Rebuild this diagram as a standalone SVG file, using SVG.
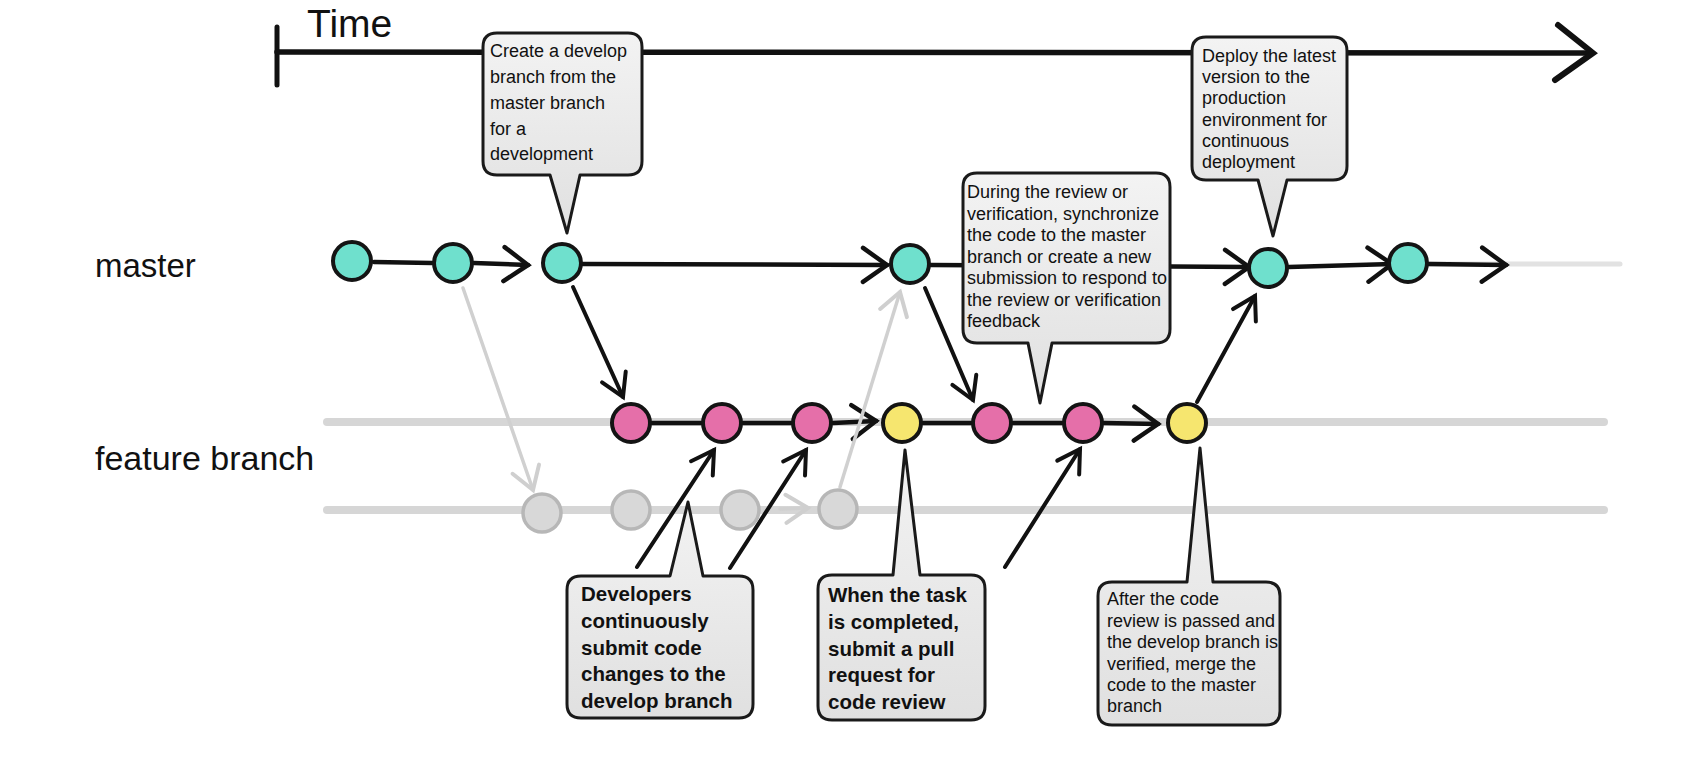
<svg xmlns="http://www.w3.org/2000/svg" width="1706" height="760" viewBox="0 0 1706 760">
<defs>
  <linearGradient id="bub" x1="0" y1="0" x2="0" y2="1">
    <stop offset="0" stop-color="#f3f3f3"/>
    <stop offset="1" stop-color="#e0e0e0"/>
  </linearGradient>
  <marker id="chev" markerUnits="userSpaceOnUse" viewBox="-30 -22 34 44" markerWidth="34" markerHeight="44" refX="0" refY="0" orient="auto" overflow="visible">
    <path d="M -24,-17 L 0,0 L -24,17" fill="none" stroke="#111" stroke-width="4.5" stroke-linejoin="miter" stroke-linecap="round"/>
  </marker>
  <marker id="chevS" markerUnits="userSpaceOnUse" viewBox="-30 -22 34 44" markerWidth="34" markerHeight="44" refX="0" refY="0" orient="auto" overflow="visible">
    <path d="M -22,-13 L 0,0 L -22,13" fill="none" stroke="#111" stroke-width="4" stroke-linecap="round"/>
  </marker>
  <marker id="chevG" markerUnits="userSpaceOnUse" viewBox="-30 -22 34 44" markerWidth="34" markerHeight="44" refX="0" refY="0" orient="auto" overflow="visible">
    <path d="M -22,-14 L 0,0 L -22,14" fill="none" stroke="#cfcfcf" stroke-width="4" stroke-linecap="round"/>
  </marker>
</defs>
<style>
  .lbl { font-family: "Liberation Sans", Arial, sans-serif; fill: #111; }
  .txt { font-family: "Liberation Sans", Arial, sans-serif; fill: #111; font-size: 18px; }
  .btxt { font-family: "Liberation Sans", Arial, sans-serif; fill: #111; font-size: 20.5px; font-weight: bold; }
  .bubble { fill: url(#bub); stroke: #1a1a1a; stroke-width: 3; stroke-linejoin: round; }
  .track { stroke: #d6d6d6; stroke-width: 8; stroke-linecap: round; fill: none; }
  .blk { stroke: #111; stroke-width: 4.5; stroke-linecap: round; fill: none; }
  .dia { stroke: #111; stroke-width: 4; stroke-linecap: round; fill: none; }
  .gry { stroke: #d0d0d0; stroke-width: 3.5; stroke-linecap: round; fill: none; }
  .teal { fill: #6fe0cd; stroke: #141414; stroke-width: 4; }
  .pink { fill: #e56fa9; stroke: #141414; stroke-width: 4; }
  .yel { fill: #f6e66f; stroke: #141414; stroke-width: 4; }
  .ghost { fill: #d8d8d8; stroke: #b7b7b7; stroke-width: 3.5; }
</style>

<rect x="0" y="0" width="1706" height="760" fill="#ffffff"/>

<!-- Time axis -->
<g id="time-axis">
  <text class="lbl" x="307" y="37" font-size="39">Time</text>
  <line x1="277" y1="27" x2="277" y2="85" stroke="#111" stroke-width="5" stroke-linecap="round"/>
  <line x1="277" y1="52" x2="1590" y2="53" stroke="#111" stroke-width="5.5" stroke-linecap="round"/>
  <path d="M 1558,25 L 1593,53 L 1555,80" fill="none" stroke="#111" stroke-width="6" stroke-linejoin="miter" stroke-linecap="round"/>
</g>

<!-- Row labels -->
<g id="label-master"><text class="lbl" x="95" y="277" font-size="33">master</text></g>
<g id="label-feature"><text class="lbl" x="95" y="470" font-size="34">feature branch</text></g>

<!-- Connectors -->
<g id="connectors">
  <!-- background tracks -->
  <line class="track" x1="327" y1="422" x2="1604" y2="422"/>
  <line class="track" x1="327" y1="510" x2="1604" y2="510"/>
  <line x1="1400" y1="264" x2="1620" y2="264" stroke="#e2e2e2" stroke-width="5" stroke-linecap="round"/>

  <!-- master row -->
  <line class="blk" x1="374" y1="262" x2="432" y2="263"/>
  <line class="blk" x1="474" y1="263" x2="528" y2="265" marker-end="url(#chev)"/>
  <line class="blk" x1="583" y1="264" x2="887" y2="265" marker-end="url(#chev)"/>
  <line class="blk" x1="931" y1="265" x2="1249" y2="267" marker-end="url(#chev)"/>
  <line class="blk" x1="1289" y1="267" x2="1392" y2="264" marker-end="url(#chev)"/>
  <line class="blk" x1="1429" y1="264" x2="1506" y2="265" marker-end="url(#chev)"/>

  <!-- feature row -->
  <line class="blk" x1="652" y1="423" x2="701" y2="423"/>
  <line class="blk" x1="743" y1="423" x2="791" y2="423"/>
  <line class="blk" x1="833" y1="423" x2="876" y2="421" marker-end="url(#chev)"/>
  <line class="blk" x1="923" y1="423" x2="971" y2="423"/>
  <line class="blk" x1="1013" y1="423" x2="1062" y2="423"/>
  <line class="blk" x1="1104" y1="423" x2="1158" y2="424" marker-end="url(#chev)"/>

  <!-- ghost row -->
  <line class="gry" x1="780" y1="509" x2="808" y2="508" marker-end="url(#chevG)"/>

  <!-- branch / merge arrows -->
  <line class="gry" x1="463" y1="288" x2="533" y2="490" marker-end="url(#chevG)"/>
  <line class="dia" x1="573" y1="287" x2="623" y2="397" marker-end="url(#chevS)"/>
  <line class="gry" x1="840" y1="487" x2="900" y2="292" marker-end="url(#chevG)"/>
  <line class="dia" x1="925" y1="288" x2="973" y2="400" marker-end="url(#chevS)"/>
  <line class="dia" x1="1197" y1="402" x2="1255" y2="296" marker-end="url(#chevS)"/>

  <!-- developer commits -->
  <line class="dia" x1="637" y1="567" x2="714" y2="450" marker-end="url(#chevS)"/>
  <line class="dia" x1="730" y1="568" x2="806" y2="450" marker-end="url(#chevS)"/>
  <line class="dia" x1="1005" y1="567" x2="1080" y2="449" marker-end="url(#chevS)"/>
</g>

<!-- Master commits -->
<g id="master-1"><circle class="teal" cx="352" cy="261" r="19"/></g>
<g id="master-2"><circle class="teal" cx="453" cy="263" r="19"/></g>
<g id="master-3"><circle class="teal" cx="562" cy="263" r="19"/></g>
<g id="master-4"><circle class="teal" cx="910" cy="264" r="19"/></g>
<g id="master-5"><circle class="teal" cx="1268" cy="268" r="19"/></g>
<g id="master-6"><circle class="teal" cx="1408" cy="263" r="19"/></g>

<!-- Feature commits -->
<g id="feature-1"><circle class="pink" cx="631" cy="423" r="19"/></g>
<g id="feature-2"><circle class="pink" cx="722" cy="423" r="19"/></g>
<g id="feature-3"><circle class="pink" cx="812" cy="423" r="19"/></g>
<g id="feature-4"><circle class="yel" cx="902" cy="423" r="19"/></g>
<g id="feature-5"><circle class="pink" cx="992" cy="423" r="19"/></g>
<g id="feature-6"><circle class="pink" cx="1083" cy="423" r="19"/></g>
<g id="feature-7"><circle class="yel" cx="1187" cy="423" r="19"/></g>

<!-- Ghost commits -->
<g id="ghost-1"><circle class="ghost" cx="542" cy="513" r="19"/></g>
<g id="ghost-2"><circle class="ghost" cx="631" cy="510" r="19"/></g>
<g id="ghost-3"><circle class="ghost" cx="740" cy="510" r="19"/></g>
<g id="ghost-4"><circle class="ghost" cx="838" cy="509" r="19"/></g>

<!-- Callouts -->
<g id="callout-create">
  <path class="bubble" d="M 497,33 H 628 Q 642,33 642,47 V 161 Q 642,175 628,175 H 580 L 567,233 L 550,175 H 497 Q 483,175 483,161 V 47 Q 483,33 497,33 Z"/>
  <text class="txt" font-size="19.5">
    <tspan x="490" y="57">Create a develop</tspan>
    <tspan x="490" y="83">branch from the</tspan>
    <tspan x="490" y="109">master branch</tspan>
    <tspan x="490" y="135">for a</tspan>
    <tspan x="490" y="160">development</tspan>
  </text>
</g>

<g id="callout-review">
  <path class="bubble" d="M 977,173 H 1156 Q 1170,173 1170,187 V 329 Q 1170,343 1156,343 H 1052 L 1040,403 L 1028,343 H 977 Q 963,343 963,329 V 187 Q 963,173 977,173 Z"/>
  <text class="txt">
    <tspan x="967" y="198">During the review or</tspan>
    <tspan x="967" y="219.5">verification, synchronize</tspan>
    <tspan x="967" y="241">the code to the master</tspan>
    <tspan x="967" y="262.5">branch or create a new</tspan>
    <tspan x="967" y="284">submission to respond to</tspan>
    <tspan x="967" y="305.5">the review or verification</tspan>
    <tspan x="967" y="327">feedback</tspan>
  </text>
</g>

<g id="callout-deploy">
  <path class="bubble" d="M 1206,37 H 1333 Q 1347,37 1347,51 V 166 Q 1347,180 1333,180 H 1287 L 1273,236 L 1258,180 H 1206 Q 1192,180 1192,166 V 51 Q 1192,37 1206,37 Z"/>
  <text class="txt">
    <tspan x="1202" y="62">Deploy the latest</tspan>
    <tspan x="1202" y="83.2">version to the</tspan>
    <tspan x="1202" y="104.4">production</tspan>
    <tspan x="1202" y="125.6">environment for</tspan>
    <tspan x="1202" y="146.8">continuous</tspan>
    <tspan x="1202" y="168">deployment</tspan>
  </text>
</g>

<g id="callout-developers">
  <path class="bubble" d="M 581,576 H 670 L 688,502 L 703,576 H 739 Q 753,576 753,590 V 704 Q 753,718 739,718 H 581 Q 567,718 567,704 V 590 Q 567,576 581,576 Z"/>
  <text class="btxt">
    <tspan x="581" y="601">Developers</tspan>
    <tspan x="581" y="627.8">continuously</tspan>
    <tspan x="581" y="654.6">submit code</tspan>
    <tspan x="581" y="681.4">changes to the</tspan>
    <tspan x="581" y="708">develop branch</tspan>
  </text>
</g>

<g id="callout-pullrequest">
  <path class="bubble" d="M 832,575 H 893 L 905,450 L 920,575 H 971 Q 985,575 985,589 V 706 Q 985,720 971,720 H 832 Q 818,720 818,706 V 589 Q 818,575 832,575 Z"/>
  <text class="btxt">
    <tspan x="828" y="602">When the task</tspan>
    <tspan x="828" y="628.8">is completed,</tspan>
    <tspan x="828" y="655.6">submit a pull</tspan>
    <tspan x="828" y="682.4">request for</tspan>
    <tspan x="828" y="709">code review</tspan>
  </text>
</g>

<g id="callout-merge">
  <path class="bubble" d="M 1112,582 H 1187 L 1200,448 L 1213,582 H 1266 Q 1280,582 1280,596 V 711 Q 1280,725 1266,725 H 1112 Q 1098,725 1098,711 V 596 Q 1098,582 1112,582 Z"/>
  <text class="txt" font-size="17.5">
    <tspan x="1107" y="605">After the code</tspan>
    <tspan x="1107" y="626.5">review is passed and</tspan>
    <tspan x="1107" y="648">the develop branch is</tspan>
    <tspan x="1107" y="669.5">verified, merge the</tspan>
    <tspan x="1107" y="691">code to the master</tspan>
    <tspan x="1107" y="712">branch</tspan>
  </text>
</g>
</svg>
